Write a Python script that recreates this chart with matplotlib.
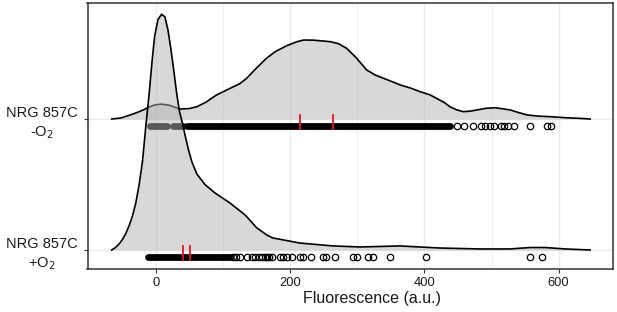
import matplotlib
matplotlib.use("Agg")
import matplotlib.pyplot as plt
import numpy as np

plt.rcParams['font.family'] = ['Liberation Sans', 'DejaVu Sans']

# groups, bottom to top
groups = ['NRG 857C\n+O$_2$', 'NRG 857C\n-O$_2$']

# density outline of the -O2 ridge
dens_minus_x = [-66, -52, -39, -28, -19, -9, -1, 8, 20, 36, 50, 61, 75, 90, 108,
                125, 135, 150, 165, 178, 195, 210, 220, 235, 250, 260, 272, 284, 298,
                314, 327, 339, 352, 364, 380, 394, 408, 418, 430, 438, 448, 458,
                468, 478, 492, 505, 517, 528, 540, 553, 570, 587, 610, 632, 647]
dens_minus_h = [0, 0.008, 0.03, 0.05, 0.069, 0.095, 0.108, 0.114, 0.105, 0.076,
                0.08, 0.094, 0.13, 0.183, 0.228, 0.27, 0.31, 0.39, 0.465, 0.515, 0.56,
                0.59, 0.603, 0.602, 0.595, 0.59, 0.575, 0.54, 0.47, 0.374, 0.335,
                0.311, 0.285, 0.26, 0.235, 0.208, 0.185, 0.158, 0.125, 0.094, 0.07,
                0.056, 0.06, 0.069, 0.082, 0.086, 0.078, 0.069, 0.05, 0.031, 0.022,
                0.018, 0.01, 0.005, 0]

# density outline of the +O2 ridge
dens_plus_x = [-66, -60, -55, -50, -45, -40, -35, -30, -25, -20, -15, -10, -6, -2,
               3, 8.5, 13.4, 17.9, 22.4, 26.8, 31, 35, 39.8, 43.2, 48.2, 53.7, 61,
               73, 88, 110, 133, 150, 165, 174, 214.7, 263.9, 304.1, 363.7, 423.4,
               483, 527.7, 557.5, 579.9, 609.7, 647]
dens_plus_h = [0, 0.02, 0.045, 0.08, 0.125, 0.185, 0.26, 0.36, 0.5, 0.68, 0.95,
               1.2, 1.43, 1.63, 1.76, 1.80, 1.779, 1.68, 1.53, 1.36, 1.19, 1.06,
               0.96, 0.88, 0.77, 0.67, 0.58, 0.5, 0.435, 0.36, 0.267, 0.17, 0.115,
               0.092, 0.053, 0.031, 0.023, 0.031, 0.015, 0.008, 0.008, 0.019, 0.019,
               0.008, 0]

# observed values: dense runs (start, end) and single points
runs_minus = [(-9, 16), (26, 40), (47, 438)]
pts_minus = [449, 459, 472, 485, 491, 497, 503, 514, 519, 525, 534, 558, 582, 588]
runs_plus = [(-12, 112)]
pts_plus = [115, 120, 125, 135, 143, 148, 153, 158, 163, 165, 168, 173, 185, 190,
            195, 203, 215, 219, 231, 249, 253, 267, 293, 299, 316, 324, 349, 402,
            557, 575]

# red marks (two summary values per group)
marks_minus = [215, 264]
marks_plus = [40, 51]

fig = plt.figure(figsize=(6.17, 3.12), dpi=100)
ax = fig.add_axes([87.5 / 617, (312 - 269) / 312, (613 - 87.5) / 617, (269 - 2.7) / 312])

ax.set_xlim(-102, 681)
ax.set_ylim(-0.145, 1.888)

ax.set_xticks([0, 200, 400, 600])
ax.set_xticks([100, 300, 500], minor=True)
ax.set_yticks([0, 1])
ax.set_yticklabels(groups)
ax.grid(True, which='major', color='#ebebeb', lw=1.0, zorder=0)
ax.grid(True, which='minor', axis='x', color='#ebebeb', lw=0.6, zorder=0)
ax.set_axisbelow(True)

fill_col = '#b3b3b3'
pt_off = -0.053


def ridge(base, dx, dh, runs, pts, marks, z):
    dx = np.array(dx)
    dh = np.array(dh)
    ax.fill_between(dx, base, base + dh, color=fill_col, alpha=0.5, lw=0, zorder=z)
    ax.plot(dx, base + dh, color='black', lw=1.2, zorder=z + 1)
    for a, b in runs:
        ax.plot([a, b], [base + pt_off] * 2, color='black', lw=4.9,
                solid_capstyle='round', zorder=z + 2)
    ax.plot(pts, [base + pt_off] * len(pts), 'o', mfc='none', mec='black',
            ms=4.6, mew=0.9, zorder=z + 2)
    for m in marks:
        ax.plot([m, m], [base + 0.031, base - 0.076], color='#e8141c', lw=1.3,
                zorder=z + 3)


ridge(1, dens_minus_x, dens_minus_h, runs_minus, pts_minus, marks_minus, 2)
ridge(0, dens_plus_x, dens_plus_h, runs_plus, pts_plus, marks_plus, 10)

for s in ax.spines.values():
    s.set_color('#333333')
    s.set_linewidth(1.1)
ax.tick_params(axis='both', which='major', length=3, width=0.8, color='#333333')
ax.tick_params(axis='x', which='minor', length=0)
ax.tick_params(axis='x', labelsize=9.3, labelcolor='#1a1a1a', pad=2.5)
ax.tick_params(axis='y', labelsize=10.5, labelcolor='#1a1a1a', pad=4)
for lbl in ax.get_yticklabels():
    lbl.set_multialignment('center')
    lbl.set_linespacing(1.35)

fig.text(372 / 617, 1 - 299 / 312, 'Fluorescence (a.u.)', ha='center', va='center',
         fontsize=11.5, color='#1a1a1a')

fig.savefig('out.png', dpi=100)
